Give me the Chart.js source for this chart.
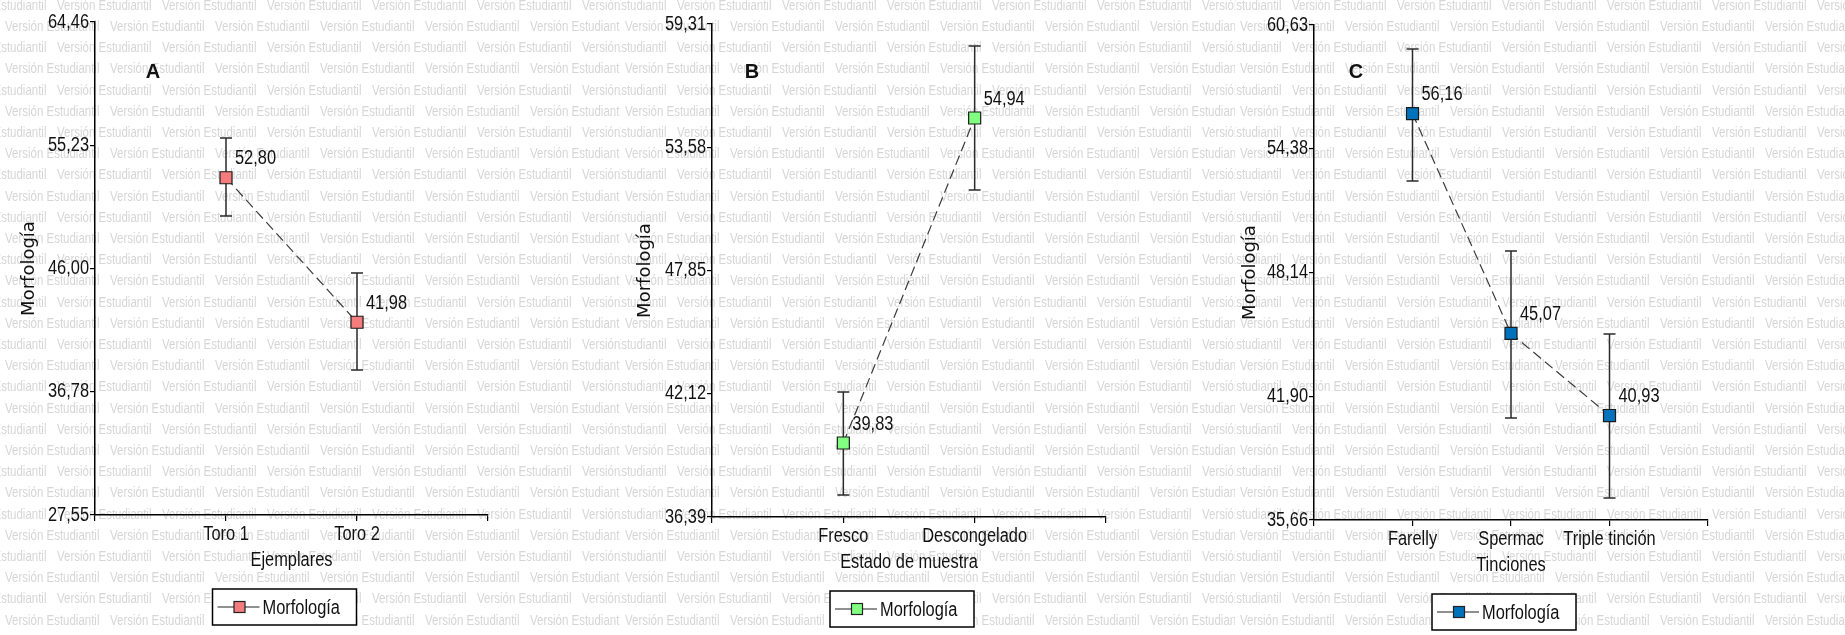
<!DOCTYPE html>
<html lang="es">
<head>
<meta charset="utf-8">
<title>Morfología</title>
<script src="https://cdn.jsdelivr.net/npm/chart.js@4.4.1/dist/chart.umd.min.js"></script>
<style>
  html, body { margin: 0; padding: 0; background: #fff; }
  .wrap { position: relative; width: 1845px; height: 635px; overflow: hidden; }
  .panel { position: absolute; top: 0; height: 635px; }
  canvas { display: block; }
</style>
</head>
<body>
<div class="wrap">
  <div class="panel" style="left:0"><canvas id="chartA" width="620" height="635"></canvas></div>
  <div class="panel" style="left:620px"><canvas id="chartB" width="615" height="635"></canvas></div>
  <div class="panel" style="left:1235px"><canvas id="chartC" width="610" height="635"></canvas></div>
</div>
<script>
// Panel A - Ejemplares
const catsA = ['Toro 1', 'Toro 2'];
const meanA = [52.80, 41.98];
const lowA = [49.94, 38.41];
const highA = [55.78, 45.67];
const yTicksA = [27.55, 36.78, 46.00, 55.23, 64.46];

// Panel B - Estado de muestra
const catsB = ['Fresco', 'Descongelado'];
const meanB = [39.83, 54.94];
const lowB = [37.41, 51.59];
const highB = [42.20, 58.29];
const yTicksB = [36.39, 42.12, 47.85, 53.58, 59.31];

// Panel C - Tinciones
const catsC = ['Farelly', 'Spermac', 'Triple tinción'];
const meanC = [56.16, 45.07, 40.93];
const lowC = [52.76, 40.80, 36.77];
const highC = [59.42, 49.23, 45.04];
const yTicksC = [35.66, 41.90, 48.14, 54.38, 60.63];

const seriesName = 'Morfología';
const SANS = '"Liberation Sans", Arial, sans-serif';
const INK = '#111';
const SQUEEZE = 0.82; // no narrow face installed, so squeeze Liberation Sans

function fmt(v) {
  return Number(v).toFixed(2).replace('.', ',');
}

// draw condensed text (Arial Narrow look)
function narrowText(ctx, text, x, y, align, size) {
  ctx.save();
  ctx.font = (size || 20) + 'px ' + SANS;
  ctx.textAlign = align || 'left';
  ctx.textBaseline = 'middle';
  ctx.translate(x, y);
  ctx.scale(SQUEEZE, 1);
  ctx.fillText(text, 0, 0);
  ctx.restore();
}

function makePanel(id, cats, mean, low, high, yTicks, xTitle, letter, color, L) {
  const n = cats.length;
  const pts = mean.map((v, i) => ({ x: i + 1, y: v }));

  // background + "Versión Estudiantil" watermark
  const watermark = {
    id: 'watermark',
    beforeDraw(chart) {
      const { ctx, width } = chart;
      ctx.save();
      ctx.fillStyle = '#fff';
      ctx.fillRect(0, 0, width, chart.height);
      ctx.fillStyle = '#d6d6d6';
      for (let k = 0; k < 31; k++) {
        const y = 6 + 21.2 * k;
        for (let x = (k % 2 === 0 ? -48 : 5); x < width; x += 105) {
          narrowText(ctx, 'Versión Estudiantil', x, y, 'left', 14);
        }
      }
      ctx.restore();
    }
  };

  const errorBars = {
    id: 'errorBars',
    beforeDatasetsDraw(chart) {
      const { ctx, scales: { x, y } } = chart;
      ctx.save();
      ctx.strokeStyle = '#2a2a2a';
      ctx.lineWidth = 1.5;
      low.forEach((lo, i) => {
        const px = x.getPixelForValue(i + 1);
        const y1 = y.getPixelForValue(lo), y2 = y.getPixelForValue(high[i]);
        ctx.beginPath();
        ctx.moveTo(px, y1); ctx.lineTo(px, y2);
        ctx.moveTo(px - 6, y1); ctx.lineTo(px + 6, y1);
        ctx.moveTo(px - 6, y2); ctx.lineTo(px + 6, y2);
        ctx.stroke();
      });
      ctx.restore();
    }
  };

  // tick labels, axis title, value labels, panel letter and boxed legend
  const extras = {
    id: 'extras',
    afterDraw(chart) {
      const { ctx, chartArea: a, scales: { x, y } } = chart;
      const meta = chart.getDatasetMeta(0);
      ctx.save();
      ctx.fillStyle = INK;

      yTicks.forEach(v => narrowText(ctx, fmt(v), a.left - 6, y.getPixelForValue(v), 'right'));
      cats.forEach((c, i) => narrowText(ctx, c, x.getPixelForValue(i + 1), a.bottom + 19, 'center'));
      narrowText(ctx, xTitle, (a.left + a.right) / 2, a.bottom + 45, 'center');

      meta.data.forEach((p, i) => narrowText(ctx, fmt(mean[i]), p.x + 9, p.y - 19, 'left'));

      ctx.font = 'bold 20px ' + SANS;
      ctx.textAlign = 'center';
      ctx.textBaseline = 'middle';
      ctx.fillText(letter, L.letterX, 72);

      const bw = 144, bh = 36;
      const bx = (a.left + a.right) / 2 - 7 - bw / 2;
      const by = a.bottom + 92 - bh / 2;
      ctx.fillStyle = '#fff';
      ctx.fillRect(bx, by, bw, bh);
      ctx.strokeStyle = '#000';
      ctx.lineWidth = 1.5;
      ctx.strokeRect(bx, by, bw, bh);
      const cy = by + bh / 2;
      ctx.lineWidth = 1.2;
      ctx.strokeStyle = '#222';
      ctx.beginPath();
      ctx.moveTo(bx + 5, cy); ctx.lineTo(bx + 47, cy);
      ctx.stroke();
      ctx.fillStyle = color;
      ctx.fillRect(bx + 21.5, cy - 5.5, 11, 11);
      ctx.strokeRect(bx + 21.5, cy - 5.5, 11, 11);
      ctx.fillStyle = INK;
      narrowText(ctx, seriesName, bx + 50, cy + 1, 'left');
      ctx.restore();
    }
  };

  return new Chart(document.getElementById(id), {
    type: 'line',
    data: {
      datasets: [{
        label: seriesName,
        data: pts,
        borderColor: '#3a3a3a',
        borderWidth: 1.2,
        borderDash: [10, 5],
        pointStyle: 'rect',
        pointRadius: 8.5,
        pointBackgroundColor: color,
        pointBorderColor: '#1a1a1a',
        pointBorderWidth: 1.2,
        tension: 0
      }]
    },
    options: {
      responsive: false,
      animation: false,
      layout: { padding: { left: 0, top: L.top, right: L.right, bottom: L.bottom } },
      plugins: { legend: { display: false }, tooltip: { enabled: false } },
      scales: {
        x: {
          type: 'linear',
          min: 0,
          max: n + 1,
          afterBuildTicks: s => { s.ticks = Array.from({ length: n + 2 }, (_, i) => ({ value: i })); },
          afterFit: s => { s.height = L.xH; },
          grid: { drawOnChartArea: false, drawTicks: true, tickLength: 6, color: '#000', lineWidth: 1.2 },
          border: { color: '#000', width: 1.5 },
          ticks: { display: false }
        },
        y: {
          type: 'linear',
          min: yTicks[0],
          max: yTicks[yTicks.length - 1],
          afterBuildTicks: s => { s.ticks = yTicks.map(v => ({ value: v })); },
          afterFit: s => { s.width = L.left; },
          grid: { drawOnChartArea: false, drawTicks: true, tickLength: 5, color: '#000', lineWidth: 1.2 },
          border: { color: '#000', width: 1.5 },
          ticks: { display: false },
          title: {
            display: true, text: seriesName, color: INK,
            font: { family: '"DejaVu Sans", sans-serif', size: 18 },
            padding: { top: L.titlePad, bottom: 0 }
          }
        }
      }
    },
    plugins: [watermark, errorBars, extras]
  });
}

makePanel('chartA', catsA, meanA, lowA, highA, yTicksA, 'Ejemplares', 'A', '#F47C7C',
  { left: 95, right: 132, top: 22, bottom: 63, xH: 57, letterX: 153, titlePad: 19 });
makePanel('chartB', catsB, meanB, lowB, highB, yTicksB, 'Estado de muestra', 'B', '#80FF80',
  { left: 92, right: 129, top: 24, bottom: 60, xH: 58, letterX: 132, titlePad: 15 });
makePanel('chartC', catsC, meanC, lowC, highC, yTicksC, 'Tinciones', 'C', '#0072BC',
  { left: 79, right: 137, top: 25, bottom: 58, xH: 57, letterX: 121, titlePad: 5 });
</script>
</body>
</html>
